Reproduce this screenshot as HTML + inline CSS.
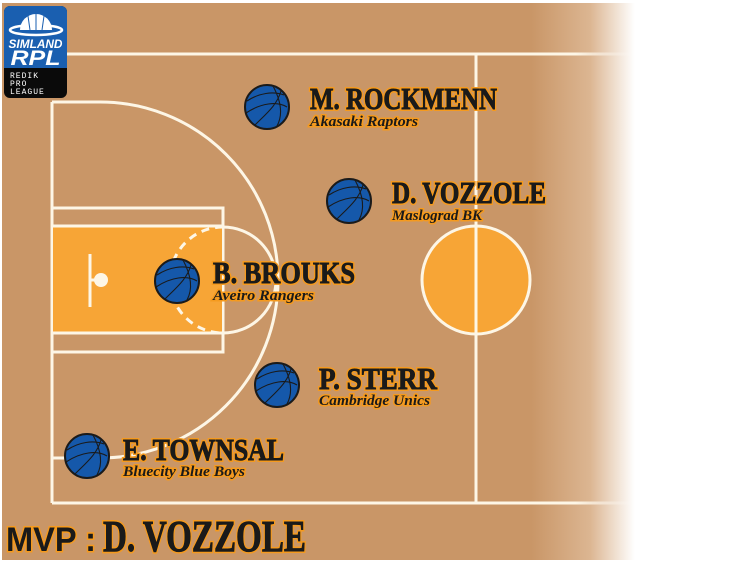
<!DOCTYPE html>
<html><head><meta charset="utf-8"><style>
html,body{margin:0;padding:0;background:#fff;width:738px;height:563px;overflow:hidden}
svg{display:block}
.n{font-family:"Liberation Serif",serif;font-weight:bold;fill:#1a1a1a;stroke:#f59a1e;stroke-width:4;paint-order:stroke;}
.nb{font-family:"Liberation Serif",serif;font-weight:bold;fill:#1a1a1a;stroke:#1a1a1a;stroke-width:0.9;}
.s{font-family:"Liberation Serif",serif;font-weight:bold;font-style:italic;fill:#1a1a1a;stroke:#f59a1e;stroke-width:3;paint-order:stroke;}
</style></head><body>
<svg width="738" height="563" viewBox="0 0 738 563" xmlns="http://www.w3.org/2000/svg">
<defs>
<linearGradient id="bg" x1="0" y1="0" x2="738" y2="0" gradientUnits="userSpaceOnUse">
<stop offset="0" stop-color="#c99667"/>
<stop offset="0.72" stop-color="#c99667"/>
<stop offset="0.80" stop-color="#dcb692"/>
<stop offset="0.86" stop-color="#fff"/>
<stop offset="1" stop-color="#fff"/>
</linearGradient>
<linearGradient id="ln" x1="0" y1="0" x2="738" y2="0" gradientUnits="userSpaceOnUse">
<stop offset="0" stop-color="#fdf6e6"/>
<stop offset="0.78" stop-color="#fdf6e6"/>
<stop offset="0.86" stop-color="#fff" stop-opacity="0"/>
</linearGradient>
<g id="ball">
<circle r="22" fill="#1558aa" stroke="#1a1a1a" stroke-width="2"/>
<path d="M-20 -6 C-8 -14 6 -16 17 -12 M-21 6 C-6 -4 10 -6 20 0 M-12 18 C0 6 10 -2 14 -16 M6 -21 C14 -6 16 8 10 19" fill="none" stroke="#1a1a1a" stroke-width="1.1"/>
</g>
</defs>
<rect x="2" y="3" width="736" height="557" fill="url(#bg)"/>
<g stroke="url(#ln)" stroke-width="3" fill="none">
<line x1="52" y1="54" x2="640" y2="54"/>
<line x1="52" y1="503" x2="640" y2="503"/>
</g>
<g stroke="#fdf6e6" stroke-width="3" fill="none">
<line x1="52" y1="102" x2="52" y2="503"/>
<line x1="476" y1="54" x2="476" y2="503"/>
<path d="M52 102 L100 102 A178 178 0 0 1 100 458 L52 458"/>
</g>
<circle cx="476" cy="280" r="54" fill="#f7a536" stroke="#fdf6e6" stroke-width="3"/>
<line x1="476" y1="226" x2="476" y2="334" stroke="#fdf6e6" stroke-width="3"/>
<rect x="52" y="208" width="171" height="144" fill="none" stroke="#fdf6e6" stroke-width="3"/>
<rect x="53" y="226" width="169" height="107" fill="#f7a536"/>
<line x1="52" y1="226" x2="223" y2="226" stroke="#fdf6e6" stroke-width="3"/>
<line x1="52" y1="333" x2="223" y2="333" stroke="#fdf6e6" stroke-width="3"/>
<path d="M223 227 A53 53 0 0 1 223 333" fill="none" stroke="#fdf6e6" stroke-width="3"/>
<path d="M223 227 A53 53 0 0 0 223 333" fill="none" stroke="#fdf6e6" stroke-width="3" stroke-dasharray="8 6"/>
<line x1="90" y1="254" x2="90" y2="307" stroke="#fdf6e6" stroke-width="3"/>
<line x1="90" y1="280" x2="96" y2="280" stroke="#fdf6e6" stroke-width="3"/>
<circle cx="101" cy="280" r="7" fill="#fdf6e6"/>
<!-- logo -->
<rect x="4" y="6" width="63" height="92" rx="6" fill="#0a0a0a"/>
<path d="M10 6 H61 A6 6 0 0 1 67 12 V68 H4 V12 A6 6 0 0 1 10 6Z" fill="#1a5fb0"/>
<path d="M20 30 A16 16 0 0 1 52 30 Z" fill="#fff"/>
<ellipse cx="36" cy="30" rx="26" ry="5" fill="none" stroke="#fff" stroke-width="2.5"/>
<path d="M28 16 L30 30 M36 14 L36 30 M44 16 L42 30" stroke="#1a5fb0" stroke-width="1"/>
<text x="35.5" y="48" text-anchor="middle" font-family="Liberation Sans,sans-serif" font-weight="bold" font-style="italic" font-size="11.5" fill="#fff" textLength="54" lengthAdjust="spacingAndGlyphs">SIMLAND</text>
<text x="35.5" y="65" text-anchor="middle" font-family="Liberation Sans,sans-serif" font-weight="bold" font-style="italic" font-size="21" fill="#fff" textLength="50" lengthAdjust="spacingAndGlyphs">RPL</text>
<g font-family="Liberation Mono,monospace" font-size="8" fill="#fff" letter-spacing="1">
<text x="10" y="78">REDIK</text><text x="10" y="86">PRO</text><text x="10" y="94">LEAGUE</text>
</g>
<!-- players -->
<use href="#ball" x="267" y="107"/>
<use href="#ball" x="349" y="201"/>
<use href="#ball" x="177" y="281"/>
<use href="#ball" x="277" y="385"/>
<use href="#ball" x="87" y="456"/>
<text class="n" x="310" y="109" font-size="31" textLength="187" lengthAdjust="spacingAndGlyphs">M. ROCKMENN</text>
<text class="nb" x="310" y="109" font-size="31" textLength="187" lengthAdjust="spacingAndGlyphs">M. ROCKMENN</text>
<text class="s" x="310" y="126" font-size="15" textLength="108" lengthAdjust="spacingAndGlyphs">Akasaki Raptors</text>
<text class="n" x="392" y="203" font-size="31" textLength="154" lengthAdjust="spacingAndGlyphs">D. VOZZOLE</text>
<text class="nb" x="392" y="203" font-size="31" textLength="154" lengthAdjust="spacingAndGlyphs">D. VOZZOLE</text>
<text class="s" x="392" y="220" font-size="15" textLength="90" lengthAdjust="spacingAndGlyphs">Maslograd BK</text>
<text class="n" x="213" y="283" font-size="31" textLength="142" lengthAdjust="spacingAndGlyphs">B. BROUKS</text>
<text class="nb" x="213" y="283" font-size="31" textLength="142" lengthAdjust="spacingAndGlyphs">B. BROUKS</text>
<text class="s" x="213" y="300" font-size="15" textLength="101" lengthAdjust="spacingAndGlyphs">Aveiro Rangers</text>
<text class="n" x="319" y="389" font-size="31" textLength="118" lengthAdjust="spacingAndGlyphs">P. STERR</text>
<text class="nb" x="319" y="389" font-size="31" textLength="118" lengthAdjust="spacingAndGlyphs">P. STERR</text>
<text class="s" x="319" y="405" font-size="15" textLength="111" lengthAdjust="spacingAndGlyphs">Cambridge Unics</text>
<text class="n" x="123" y="460" font-size="31" textLength="161" lengthAdjust="spacingAndGlyphs">E. TOWNSAL</text>
<text class="nb" x="123" y="460" font-size="31" textLength="161" lengthAdjust="spacingAndGlyphs">E. TOWNSAL</text>
<text class="s" x="123" y="476" font-size="15" textLength="122" lengthAdjust="spacingAndGlyphs">Bluecity Blue Boys</text>
<text x="6" y="551" font-family="Liberation Sans,sans-serif" font-weight="bold" font-size="34" fill="#1a1a1a" stroke="#f59a1e" stroke-width="3" paint-order="stroke" textLength="90" lengthAdjust="spacingAndGlyphs">MVP :</text>
<text class="n" x="103" y="551" font-size="44" textLength="203" lengthAdjust="spacingAndGlyphs">D. VOZZOLE</text>
<text class="nb" x="103" y="551" font-size="44" textLength="203" lengthAdjust="spacingAndGlyphs">D. VOZZOLE</text>
</svg>
</body></html>
